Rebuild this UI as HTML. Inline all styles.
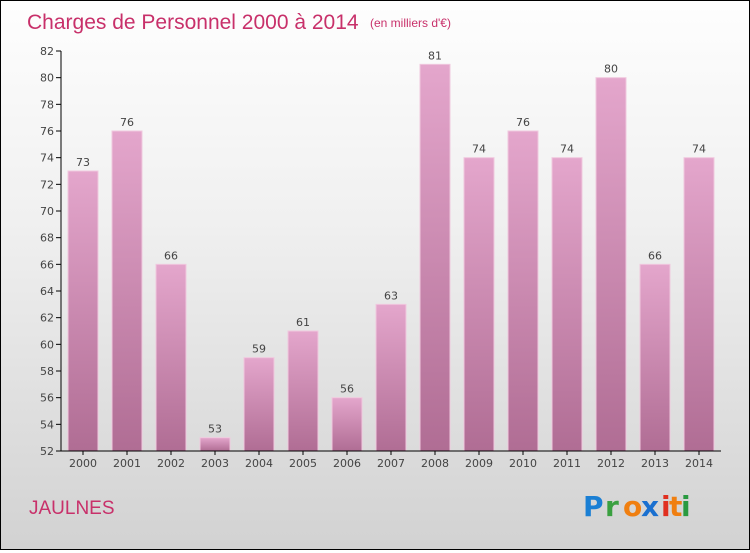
<!DOCTYPE html>
<html><head><meta charset="utf-8"><style>
body{margin:0}
#c{width:748px;height:548px;border:1px solid #000;background:linear-gradient(#fefefe,#f0f0f0 40%,#d2d2d2);position:relative;font-family:"DejaVu Sans","Liberation Sans",sans-serif}
</style></head><body>
<div id="c">
<svg width="748" height="548">
<defs><linearGradient id="g" x1="0" y1="0" x2="0" y2="1"><stop offset="0" stop-color="#e4a6cc"/><stop offset="1" stop-color="#b06d94"/></linearGradient></defs>
<text x="26" y="28" font-size="21" fill="#c8306a" font-family="Liberation Sans,sans-serif">Charges de Personnel 2000 à 2014</text>
<text x="369" y="26" font-size="12" fill="#c8306a" font-family="Liberation Sans,sans-serif">(en milliers d'€)</text>
<g id="plot"></g>
<text x="28" y="513" font-size="19" fill="#c8306a" font-family="Liberation Sans,sans-serif">JAULNES</text>
<g font-family="DejaVu Sans,sans-serif" font-size="28" font-weight="bold">
<text x="582" y="515" fill="#1a7fd4">P</text><text x="604" y="515" fill="#3aa040">r</text><text x="622" y="515" fill="#f07f10">o</text><text x="640" y="515" fill="#1a70d0">x</text><text x="660" y="515" fill="#e03020">i</text><text x="668" y="515" fill="#f07f10">t</text><text x="680" y="515" fill="#2a9a40">i</text>
</g>
</svg></div>
<script>
const categories=["2000","2001","2002","2003","2004","2005","2006","2007","2008","2009","2010","2011","2012","2013","2014"];
const values=[73,76,66,53,59,61,56,63,81,74,76,74,80,66,74];
const yTicks=[52,54,56,58,60,62,64,66,68,70,72,74,76,78,80,82];
const NS="http://www.w3.org/2000/svg",g=document.getElementById('plot');
const y=v=>450-(v-52)*400/30, x=i=>82+i*44;
function el(t,a,txt){const e=document.createElementNS(NS,t);for(const k in a)e.setAttribute(k,a[k]);if(txt!=null)e.textContent=txt;g.appendChild(e);return e;}
yTicks.forEach(t=>{
 const l=el('line',{x1:55,x2:60,y1:y(t),y2:y(t),stroke:'#000'});
 
 const tx=el('text',{x:53,y:y(t)+4,'font-size':11,fill:'#444','text-anchor':'end'},t);
 
});
values.forEach((v,i)=>{
 const r=el('rect',{x:x(i)-15,y:y(v),width:30,height:450-y(v),fill:'url(#g)',stroke:'#f0c8de','stroke-width':1});
 
 const lb=el('text',{x:x(i),y:y(v)-5,'font-size':11,fill:'#444','text-anchor':'middle'},v);
 
 const c=el('text',{x:x(i),y:466,'font-size':11,fill:'#444','text-anchor':'middle'},categories[i]);
 
 const tk=el('line',{x1:x(i),x2:x(i),y1:450,y2:454,stroke:'#000'});
 
});
const ya=el('line',{x1:60,x2:60,y1:50,y2:450,stroke:'#000'});

const xa=el('line',{x1:60,x2:720,y1:450,y2:450,stroke:'#000'});

</script>
</body></html>
